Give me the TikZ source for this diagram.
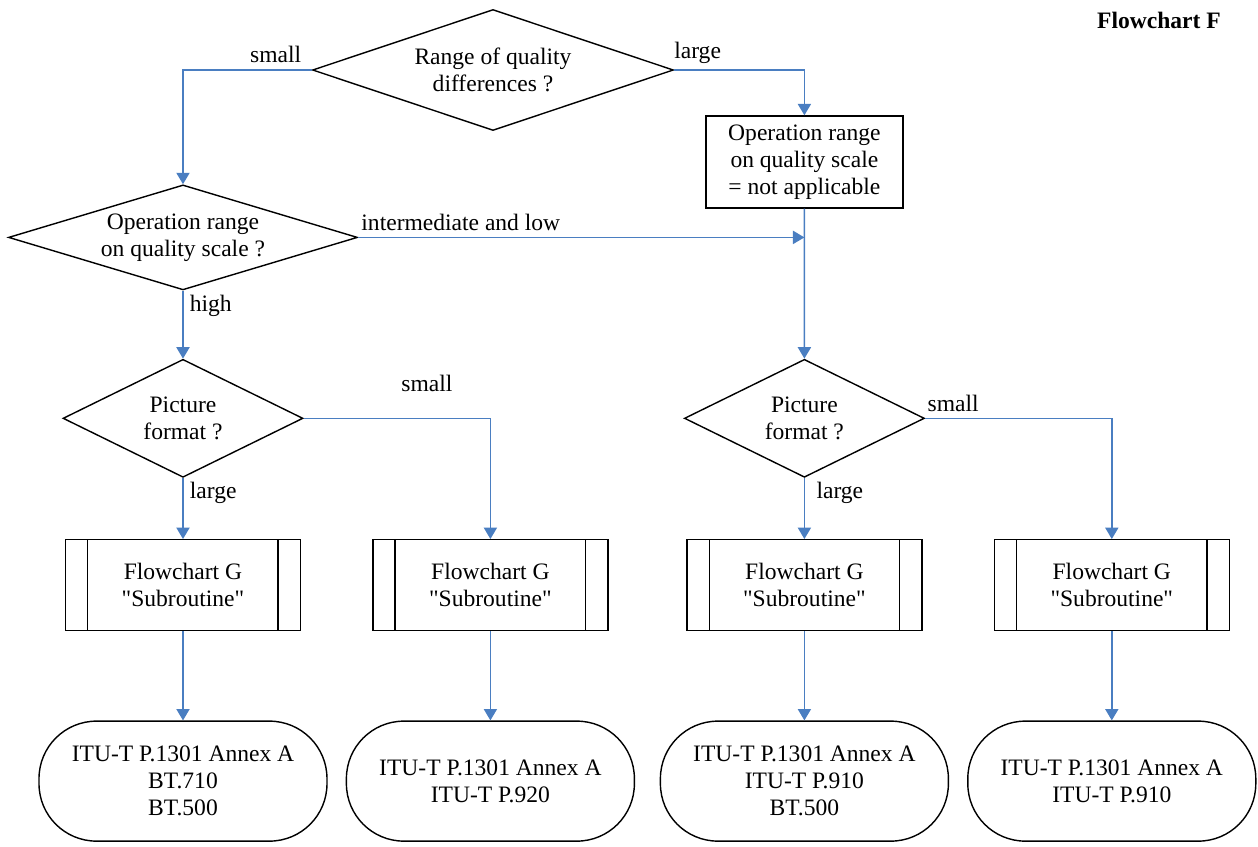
\documentclass[tikz,border=0pt]{standalone}
\usepackage{fontspec}
\setmainfont{Liberation Serif}
\usetikzlibrary{shapes.geometric, arrows.meta, positioning}
\definecolor{flowblue}{RGB}{74,126,193}

\begin{document}
\begin{tikzpicture}[
    >={Triangle[length=6.5pt, width=7.5pt]},
    font=\fontsize{13.4pt}{15.4pt}\selectfont,
    decision/.style={diamond, draw=black, line width=0.8pt, inner sep=0pt, align=center},
    process/.style={rectangle, draw=black, line width=0.8pt, minimum width=3.94cm, minimum height=1.84cm, align=center},
    subr/.style={rectangle, draw=black, line width=0.8pt, minimum width=4.7cm, minimum height=1.82cm, align=center},
    terminal/.style={rectangle, draw=black, line width=0.8pt, rounded corners=1.15cm, minimum width=5.76cm, minimum height=2.4cm, align=center},
    flow/.style={->, draw=flowblue, line width=0.8pt},
    lbl/.style={inner sep=3.5pt}
]
\useasboundingbox (-9.86,1.4) rectangle (15.3,-15.54);

% Title
\node[font=\fontsize{13.4pt}{15.4pt}\selectfont\bfseries, anchor=east] (title) at (14.68,1.0) {Flowchart F};

% Decisions
\node[decision, shape aspect=3, minimum width=7.22cm, minimum height=2.42cm] (qrange) at (0,0) {Range of quality\\differences ?};
\node[decision, shape aspect=3.3, minimum width=6.98cm, minimum height=2.1cm] (qscale) [below=1.06cm of qrange, xshift=-6.2cm] {Operation range\\on quality scale ?};
\node[process] (notapp) [right=0.62cm of qrange, yshift=-1.84cm] {Operation range\\on quality scale\\= not applicable};
\coordinate (join) at (notapp.south |- qscale.east);

\node[decision, shape aspect=2, minimum width=4.8cm, minimum height=2.36cm] (pfL) [below=1.36cm of qscale] {Picture\\format ?};
\node[decision, shape aspect=2, minimum width=4.8cm, minimum height=2.36cm] (pfR) [right=7.6cm of pfL] {Picture\\format ?};

% Subroutines
\node[subr] (sub1) [below=1.22cm of pfL] {Flowchart G\\\textquotedbl Subroutine\textquotedbl};
\node[subr] (sub2) [right=1.42cm of sub1] {Flowchart G\\\textquotedbl Subroutine\textquotedbl};
\node[subr] (sub3) [below=1.22cm of pfR] {Flowchart G\\\textquotedbl Subroutine\textquotedbl};
\node[subr] (sub4) [right=1.42cm of sub3] {Flowchart G\\\textquotedbl Subroutine\textquotedbl};
\foreach \s in {sub1,sub2,sub3,sub4} {
    \draw[line width=0.8pt] ([xshift=0.46cm]\s.north west) -- ([xshift=0.46cm]\s.south west);
    \draw[line width=0.8pt] ([xshift=-0.46cm]\s.north east) -- ([xshift=-0.46cm]\s.south east);
}

% Results
\node[terminal] (term1) [below=1.78cm of sub1] {ITU-T P.1301 Annex A\\BT.710\\BT.500};
\node[terminal] (term2) [below=1.78cm of sub2] {ITU-T P.1301 Annex A\\ITU-T P.920};
\node[terminal] (term3) [below=1.78cm of sub3] {ITU-T P.1301 Annex A\\ITU-T P.910\\BT.500};
\node[terminal] (term4) [below=1.78cm of sub4] {ITU-T P.1301 Annex A\\ITU-T P.910};

% Connectors
\draw[flow] (qrange.west) -| node[lbl, above, pos=0.14] {small} (qscale.north);
\draw[flow] (qrange.east) -| node[lbl, above, pos=0.09] {large} (notapp.north);
\draw[flow] (qscale.east) -- node[lbl, above, pos=0.23] {intermediate and low} (join);
\draw[flow] (notapp.south) -- (pfR.north);
\draw[flow] (qscale.south) -- node[lbl, right, pos=0.22] {high} (pfL.north);

\draw[flow] (pfL.east) -| node[lbl, above=0.4cm, pos=0.33] {small} (sub2.north);
\draw[flow] (pfL.south) -- node[lbl, right, pos=0.24] {large} (sub1.north);
\draw[flow] (pfR.east) -| node[lbl, above, pos=0.075] {small} (sub4.north);
\draw[flow] (pfR.south) -- node[lbl, right, pos=0.24, xshift=3pt] {large} (sub3.north);

\draw[flow] (sub1) -- (term1);
\draw[flow] (sub2) -- (term2);
\draw[flow] (sub3) -- (term3);
\draw[flow] (sub4) -- (term4);

\end{tikzpicture}
\end{document}
